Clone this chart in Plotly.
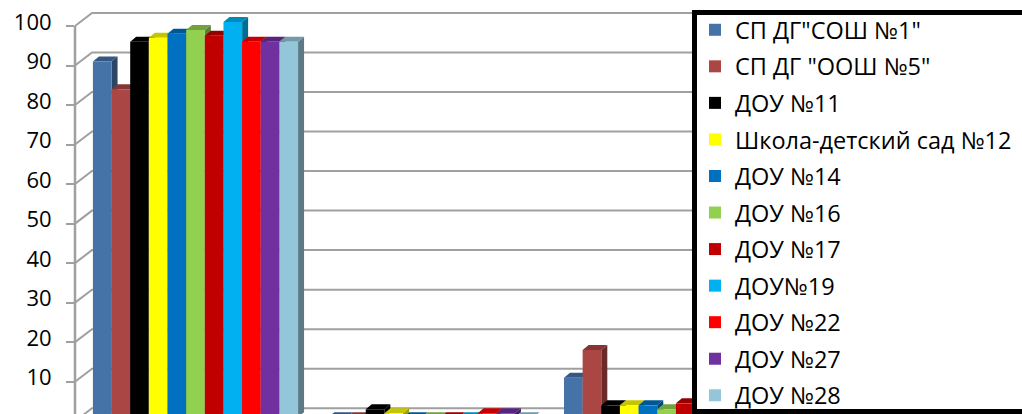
import plotly.graph_objects as go

# Data

categories = ["Группа 1", "Группа 2", "Группа 3"]

schools = [
    'СП ДГ"СОШ №1"',
    'СП ДГ "ООШ №5"',
    "ДОУ №11",
    "Школа-детский сад №12",
    "ДОУ №14",
    "ДОУ №16",
    "ДОУ №17",
    "ДОУ№19",
    "ДОУ №22",
    "ДОУ №27",
    "ДОУ №28",
]

colors = [
    "#4572a7", "#aa4643", "#000000", "#ffff00", "#0070c0", "#92d050",
    "#c00000", "#00b0f0", "#ff0000", "#7030a0", "#93c6d9",
]

group1 = [90, 83, 95, 96, 97, 98, 96.5, 100, 95, 95, 95]
group2 = [0, 0, 2, 1, 0, 0, 0, 0, 1, 1, 0]
group3 = [10, 17, 3, 3, 3, 2, 3.5, 0, 4, 4, 5]

y_ticks = [0, 10, 20, 30, 40, 50, 60, 70, 80, 90, 100]

# Layout constants (pixels) to fake the Excel 3D look

W, H = 1022, 414
LEFT = 75
PLOT_W = W - LEFT
X_RANGE = [-0.5115, 3.509]
BAR_RANGE = [0.81, 105.57]     # bars sit a bit behind the front axis
FRONT_RANGE = [1.82, 106.58]   # axis labels
BARGAP = 0.129
DEPTH_DX, DEPTH_DY = 6, 5      # bar depth in px
WALL_DX, WALL_DY = 17, 13      # back wall offset in px
GRID = "#a0a0a0"
FONT = "Open Sans"

x_px = PLOT_W / (X_RANGE[1] - X_RANGE[0])
y_px = H / (FRONT_RANGE[1] - FRONT_RANGE[0])


def shade(hex_color, k):
    r, g, b = (int(hex_color[i:i + 2], 16) for i in (1, 3, 5))
    return "#%02x%02x%02x" % (int(r * k), int(g * k), int(b * k))


values = [list(v) for v in zip(group1, group2, group3)]
x_pos = list(range(len(categories)))

fig = go.Figure()

for j, school in enumerate(schools):
    fig.add_trace(
        go.Bar(
            x=x_pos,
            y=values[j],
            name=school,
            legendgroup=school,
            marker=dict(color=colors[j], line=dict(width=0)),
            hovertemplate=f"<b>{school}</b><br>%{{y}}<extra></extra>",
        )
    )

# 3D faces (top + right side) for every bar, from the same values
shapes = []
bw = (1 - BARGAP) / len(schools)
ddx = DEPTH_DX / x_px
ddy = DEPTH_DY / y_px
for j in range(len(schools)):
    for i in x_pos:
        v = values[j][i]
        x0 = i - (1 - BARGAP) / 2 + j * bw
        x1 = x0 + bw
        shapes.append(dict(
            type="path", xref="x", yref="y", layer="below",
            path=f"M{x1},0 L{x1},{v} L{x1 + ddx},{v + ddy} L{x1 + ddx},{ddy} Z",
            fillcolor=shade(colors[j], 0.62), line=dict(width=0),
        ))
        shapes.append(dict(
            type="path", xref="x", yref="y", layer="below",
            path=f"M{x0},{v} L{x0 + ddx},{v + ddy} L{x1 + ddx},{v + ddy} L{x1},{v} Z",
            fillcolor=shade(colors[j], 0.78), line=dict(width=0),
        ))

# back wall gridlines with diagonal links to the front axis
wall_x = WALL_DX / PLOT_W
wall_y = WALL_DY / y_px
grid_shapes = []
for t in y_ticks:
    grid_shapes.append(dict(
        type="path", xref="paper", yref="y2", layer="below",
        path=f"M0,{t} L{wall_x},{t + wall_y} L1,{t + wall_y}",
        line=dict(color=GRID, width=2),
    ))
grid_shapes.append(dict(
    type="line", xref="paper", yref="y2", layer="below",
    x0=0, x1=0, y0=FRONT_RANGE[0] - 5, y1=y_ticks[-1],
    line=dict(color=GRID, width=2.5),
))

# legend frame: thick black box running off the right edge
legend_box = dict(
    type="rect", xref="paper", yref="paper", layer="above",
    x0=(694.5 - LEFT) / PLOT_W, x1=(1040 - LEFT) / PLOT_W,
    y0=1 - 411.5 / H, y1=1 - 12.5 / H,
    fillcolor="white", line=dict(color="black", width=5),
)

fig.update_layout(
    width=W,
    height=H,
    margin=dict(l=LEFT, r=0, t=0, b=0, autoexpand=False),
    paper_bgcolor="white",
    plot_bgcolor="white",
    font=dict(family=FONT, size=22, color="black"),
    barmode="group",
    bargap=BARGAP,
    bargroupgap=0,
    shapes=grid_shapes + shapes + [legend_box],
    xaxis=dict(
        range=X_RANGE, showgrid=False, zeroline=False, showline=False,
        showticklabels=False, ticks="", tickvals=x_pos, ticktext=categories,
    ),
    yaxis=dict(
        range=BAR_RANGE, showgrid=False, zeroline=False, showline=False,
        showticklabels=False, ticks="",
    ),
    yaxis2=dict(
        range=FRONT_RANGE, overlaying="y", anchor="x", side="left",
        tickvals=y_ticks, ticks="outside", ticklen=8, tickwidth=2,
        tickcolor=GRID, showgrid=False, zeroline=False, showline=False,
        ticklabelstandoff=10, ticklabelshift=-4,
        tickfont=dict(family=FONT, size=22, color="black"),
    ),
    legend=dict(
        x=(695 - LEFT) / PLOT_W, xanchor="left",
        y=1 - 8 / H, yanchor="top",
        bgcolor="rgba(0,0,0,0)", borderwidth=0,
        font=dict(family=FONT, size=23.5, color="black"),
        tracegroupgap=3,
    ),
    showlegend=True,
)

# the page's default body margin would shift the whole chart
fig.write_html(
    "out.html",
    config={"displayModeBar": False},
    post_script="document.body.style.margin='0';",
)
